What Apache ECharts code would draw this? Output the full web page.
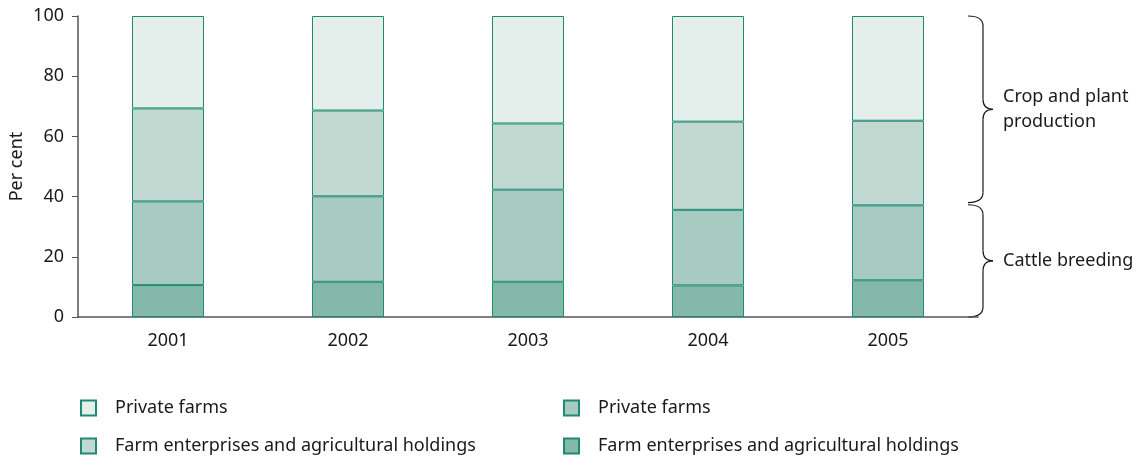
<!DOCTYPE html>
<html>
<head>
<meta charset="utf-8">
<script src="https://cdn.jsdelivr.net/npm/echarts@6/dist/echarts.min.js"></script>
<style>
  html, body { margin: 0; padding: 0; background: #fff; }
  #chart { width: 1147px; height: 456px; }
</style>
</head>
<body>
<div id="chart"></div>
<script>
// Shares of agricultural output by producer type, stacked to 100 %
const years = ['2001', '2002', '2003', '2004', '2005'];

// Cattle breeding
const cattleEnterprises = [10.6, 11.7, 11.7, 10.5, 12.2];
const cattlePrivate     = [27.8, 28.4, 30.6, 25.1, 24.9];
// Crop and plant production
const cropEnterprises   = [30.9, 28.5, 22.0, 29.3, 28.1];
const cropPrivate       = [30.7, 31.4, 35.7, 35.1, 34.8];

const yTicks = [0, 20, 40, 60, 80, 100];

const seriesNames = ['cattleEnterprises', 'cattlePrivate', 'cropEnterprises', 'cropPrivate'];
const legendLabels = {
  cattleEnterprises: 'Farm enterprises and agricultural holdings',
  cattlePrivate: 'Private farms',
  cropEnterprises: 'Farm enterprises and agricultural holdings',
  cropPrivate: 'Private farms'
};
const fills = ['#84b8a8', '#a8cbc1', '#c2d9d1', '#e4eeeb'];
const seriesData = [cattleEnterprises, cattlePrivate, cropEnterprises, cropPrivate];

// Group annotations on the right: [label, from, to]
const groups = [
  ['Crop and plant\nproduction', 38, 100],
  ['Cattle breeding', 0, 37.3]
];

const FONT = '"Noto Sans", "Open Sans", sans-serif';
const chart = echarts.init(document.getElementById('chart'), null, { renderer: 'canvas' });

function legendAt(left, items) {
  return {
    orient: 'vertical',
    left: left,
    top: 399,
    padding: 0,
    icon: 'rect',
    itemWidth: 15,
    itemHeight: 15,
    itemGap: 20,
    selectedMode: false,
    data: items,
    textStyle: { fontFamily: FONT, fontSize: 18, lineHeight: 18, color: '#1a1a1a', padding: [0, 0, 0, 14] },
    formatter: name => legendLabels[name]
  };
}

// Curly brace built from quadratic curves and straight segments
function brace(x0, yTop, yBot, depth, tip, r) {
  const xm = x0 + depth;
  const ym = (yTop + yBot) / 2;
  const st = { stroke: '#1a1a1a', lineWidth: 1.2, fill: null };
  return [
    { type: 'bezierCurve', shape: { x1: x0, y1: yTop, cpx1: xm, cpy1: yTop, x2: xm, y2: yTop + r }, style: st },
    { type: 'line', shape: { x1: xm, y1: yTop + r, x2: xm, y2: ym - r }, style: st },
    { type: 'bezierCurve', shape: { x1: xm, y1: ym - r, cpx1: xm, cpy1: ym, x2: xm + tip, y2: ym }, style: st },
    { type: 'bezierCurve', shape: { x1: xm + tip, y1: ym, cpx1: xm, cpy1: ym, x2: xm, y2: ym + r }, style: st },
    { type: 'line', shape: { x1: xm, y1: ym + r, x2: xm, y2: yBot - r }, style: st },
    { type: 'bezierCurve', shape: { x1: xm, y1: yBot - r, cpx1: xm, cpy1: yBot, x2: x0, y2: yBot }, style: st }
  ];
}

chart.setOption({
  animation: false,
  grid: { left: 78, right: 169, top: 16, bottom: 139, containLabel: false, outerBoundsMode: 'none' },
  legend: [
    legendAt(80, ['cropPrivate', 'cropEnterprises']),
    legendAt(563, ['cattlePrivate', 'cattleEnterprises'])
  ],
  xAxis: {
    type: 'category',
    data: years,
    axisLine: { lineStyle: { color: '#555', width: 1.5 } },
    axisTick: { length: 5, lineStyle: { color: '#555' } },
    axisLabel: { fontFamily: FONT, fontSize: 18, color: '#1a1a1a', margin: 15 }
  },
  yAxis: {
    type: 'value',
    min: 0,
    max: 100,
    interval: 20,
    name: 'Per cent',
    nameLocation: 'middle',
    nameGap: 52,
    nameMoveOverlap: false,
    nameTextStyle: { fontFamily: FONT, fontSize: 18, color: '#1a1a1a' },
    axisLine: { show: true, lineStyle: { color: '#555', width: 1.5 } },
    axisTick: { show: true, length: 6, lineStyle: { color: '#555' } },
    splitLine: { show: false },
    axisLabel: {
      fontFamily: FONT, fontSize: 18, color: '#1a1a1a', margin: 14,
      formatter: v => (yTicks.includes(v) ? String(v) : '')
    }
  },
  series: seriesNames.map((name, i) => ({
    name,
    type: 'bar',
    stack: 'total',
    barWidth: 72,
    data: seriesData[i],
    itemStyle: { color: fills[i], borderColor: '#1e8a72', borderWidth: 1 }
  }))
});

const graphics = [];
groups.forEach(([label, from, to]) => {
  const yTop = chart.convertToPixel({ yAxisIndex: 0 }, to);
  const yBot = chart.convertToPixel({ yAxisIndex: 0 }, from);
  const x0 = 968;
  graphics.push(...brace(x0, yTop, yBot, 15, 10, 10));
  graphics.push({
    type: 'text',
    x: x0 + 35,
    y: (yTop + yBot) / 2,
    style: {
      text: label,
      font: '18px ' + FONT,
      fill: '#1a1a1a',
      verticalAlign: 'middle',
      lineHeight: 25
    }
  });
});
chart.setOption({ graphic: graphics });
</script>
</body>
</html>
